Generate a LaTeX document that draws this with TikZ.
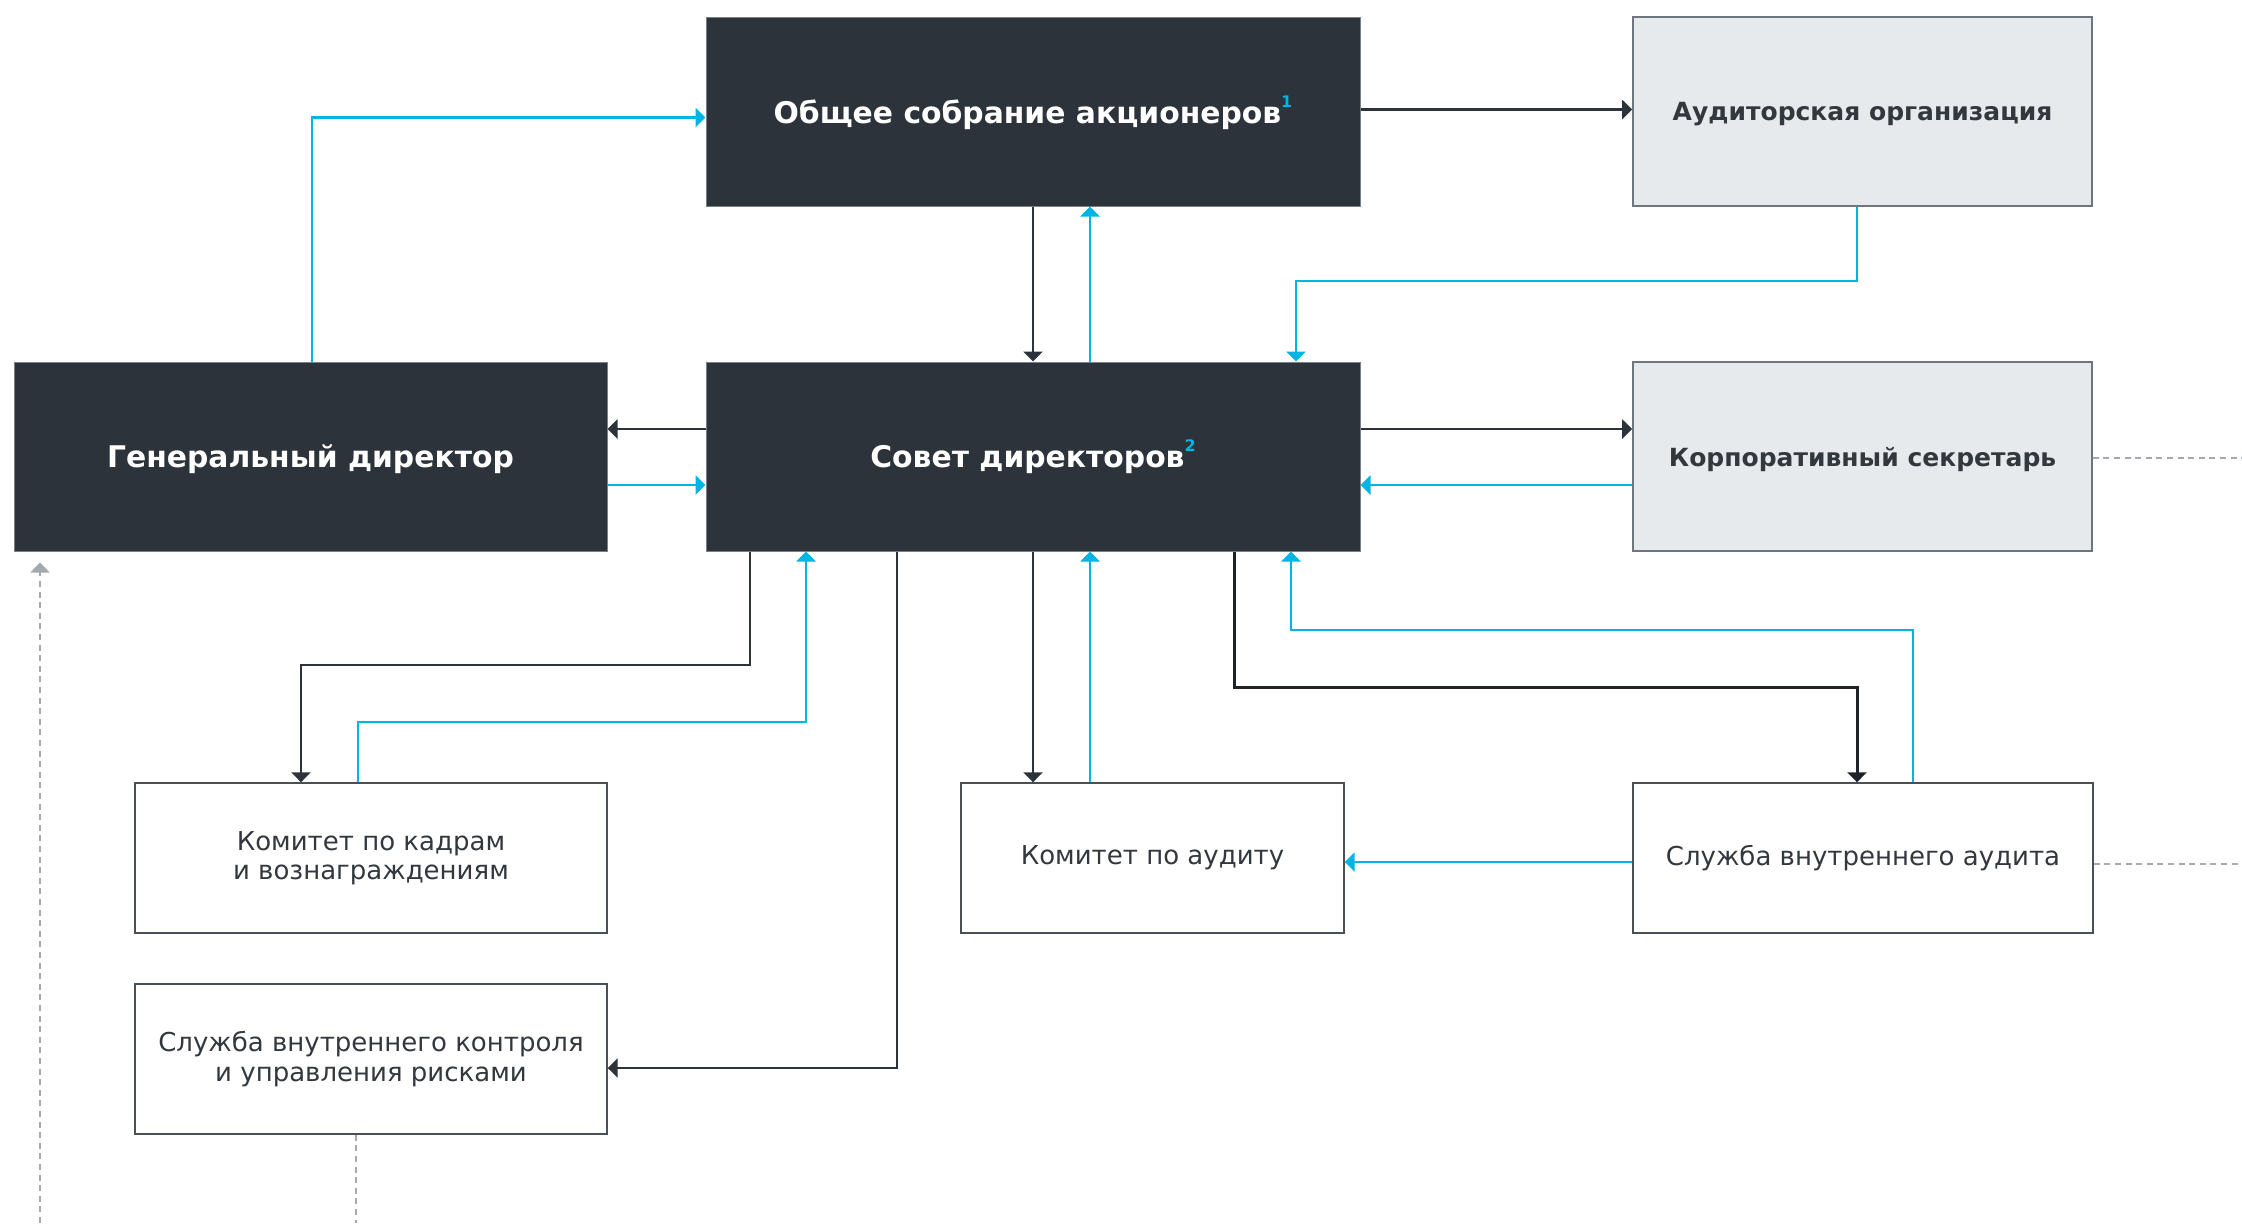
\documentclass[tikz,border=0pt]{standalone}
\usepackage{fontspec}
\setmainfont{DejaVu Sans}
\usetikzlibrary{arrows.meta}
\definecolor{darkc}{HTML}{2D333B}
\definecolor{cyanc}{HTML}{00B4E4}
\definecolor{grayfill}{HTML}{E7EAED}
\definecolor{grayedge}{HTML}{6E757D}
\definecolor{darkedge}{HTML}{7A8088}
\definecolor{whiteedge}{HTML}{4A5058}
\definecolor{txtc}{HTML}{33383E}
\definecolor{dashc}{HTML}{A3A9AF}
\definecolor{blackc}{HTML}{1F2328}
\newcommand\ttlfont{\bfseries\fontsize{14.9}{18}\selectfont}
\newcommand\grfont{\bfseries\fontsize{12.5}{15}\selectfont}
\newcommand\rgfont{\fontsize{13}{14.75}\selectfont}
\newcommand\supnum[1]{\smash{\raisebox{0.95ex}{\fontsize{8}{8}\selectfont\color{cyanc}#1}}}
\newcommand\lowr[1]{\raisebox{-1.5pt}[\height][\depth]{#1}}
\begin{document}
\begin{tikzpicture}[x=0.5pt,y=-0.5pt,
  darkbox/.style={draw=darkedge, line width=0.5pt, fill=darkc, text=white, font=\ttlfont, inner sep=0pt, minimum height=94.5pt, align=center},
  graybox/.style={draw=grayedge, line width=0.8pt, fill=grayfill, text=txtc, font=\grfont, inner sep=0pt, minimum height=94.5pt, align=center},
  whitebox/.style={draw=whiteedge, line width=0.7pt, fill=white, text=txtc, font=\rgfont, inner sep=0pt, minimum height=75pt, align=center},
  tip/.style={-{Triangle[length=5pt,width=9.5pt]}},
  blk/.style={draw=darkc, line width=1.1pt, tip},
  blkthick/.style={draw=blackc, line width=1.5pt, tip},
  cyn/.style={draw=cyanc, line width=1.1pt, tip},
  dashg/.style={draw=dashc, line width=0.8pt, dash pattern=on 3pt off 2.3pt}
]
\useasboundingbox (0,0) rectangle (2242,1223);
\fill[white] (0,0) rectangle (2242,1223);

% nodes
\node[darkbox, minimum width=327pt] (osa) at (1033,111.5) {\lowr{Общее собрание акционеров\supnum{1}}};
\node[graybox, minimum width=229.5pt] (aud) at (1862.5,111.5) {\lowr{Аудиторская организация}};
\node[darkbox, minimum width=296.5pt] (gd) at (310.5,456.5) {\lowr{Генеральный директор}};
\node[darkbox, minimum width=327pt] (sd) at (1033,456.5) {\lowr{Совет директоров\supnum{2}}};
\node[graybox, minimum width=229.5pt] (ks) at (1862.5,456.5) {\lowr{Корпоративный секретарь}};
\node[whitebox, minimum width=236pt] (kk) at (371,858) {Комитет по кадрам\\и вознаграждениям};
\node[whitebox, minimum width=236pt] (skr) at (371,1059) {Служба внутреннего контроля\\и управления рисками};
\node[whitebox, minimum width=191.5pt] (ka) at (1152.5,858) {Комитет по аудиту};
\node[whitebox, minimum width=230pt] (sva) at (1863,858) {Служба внутреннего аудита};

% free ends
\coordinate (ksend) at (2242,458);
\coordinate (svaend) at (2242,864);
\coordinate (skrend) at (356,1223);
\coordinate (leftstart) at (40,1223);

% connectors top
\draw[cyn] (gd.north -| 312,0) |- (osa.west |- 0,117.5);
\draw[blk] (osa.east |- 0,109.5) -- (aud.west |- 0,109.5);
\draw[blk] (osa.south -| 1033,0) -- (sd.north -| 1033,0);
\draw[cyn] (sd.north -| 1090,0) -- (osa.south -| 1090,0);
\draw[cyn] (aud.south -| 1857,0) -- (1857,281) -| (sd.north -| 1296,0);

% middle row
\draw[blk] (sd.west |- 0,429) -- (gd.east |- 0,429);
\draw[cyn] (gd.east |- 0,485) -- (sd.west |- 0,485);
\draw[blk] (sd.east |- 0,429) -- (ks.west |- 0,429);
\draw[cyn] (ks.west |- 0,485) -- (sd.east |- 0,485);
\draw[dashg] (ks.east |- ksend) -- (ksend);

% lower connectors
\draw[blk] (sd.south -| 750,0) -- (750,665) -| (kk.north -| 301,0);
\draw[cyn] (kk.north -| 358,0) -- (358,722) -| (sd.south -| 806,0);
\draw[blk] (sd.south -| 897,0) |- (skr.east |- 0,1068);
\draw[blk] (sd.south -| 1033,0) -- (ka.north -| 1033,0);
\draw[cyn] (ka.north -| 1090,0) -- (sd.south -| 1090,0);
\draw[blkthick] (sd.south -| 1234,0) -- (1234,687) -| (sva.north -| 1857,0);
\draw[cyn] (sva.north -| 1913,0) -- (1913,630) -| (sd.south -| 1291,0);
\draw[cyn] (sva.west |- 0,862) -- (ka.east |- 0,862);
\draw[dashg] (sva.east |- svaend) -- (svaend);
\draw[dashg] (skr.south -| skrend) -- (skrend);
\draw[dashg, -{Triangle[length=5pt,width=9.5pt]}, shorten >=5.5pt] (leftstart) -- (gd.south -| leftstart);
\end{tikzpicture}
\end{document}
